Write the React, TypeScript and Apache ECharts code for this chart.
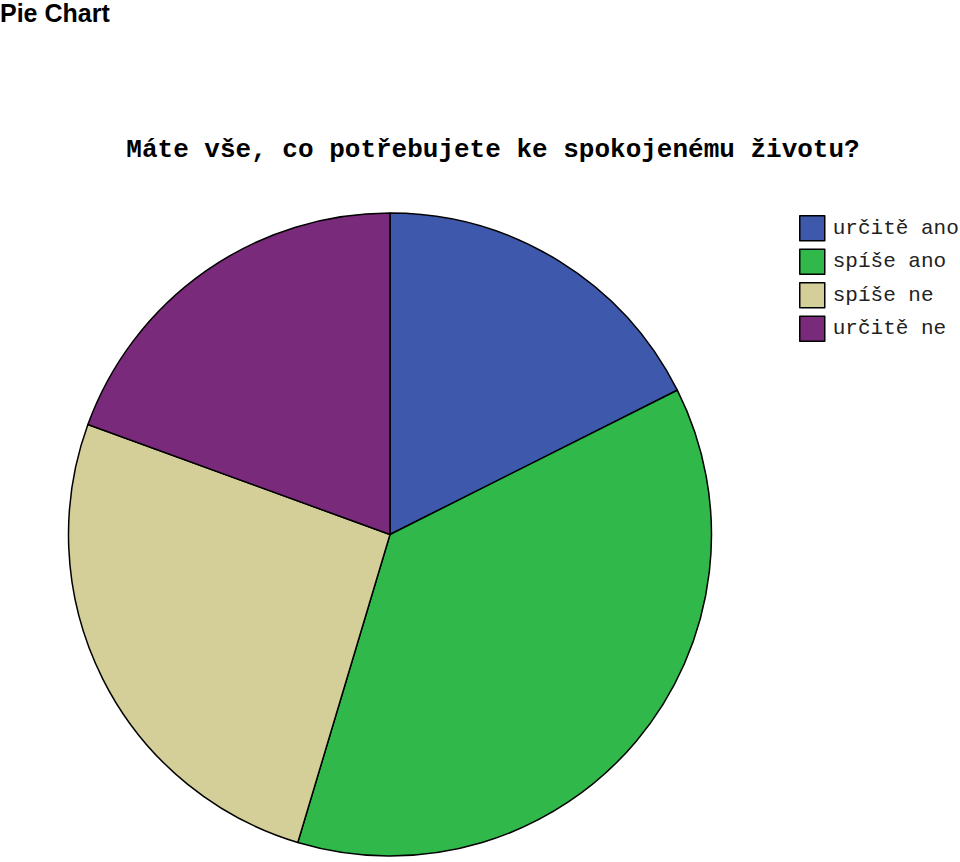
import React, { useEffect, useRef } from 'react';
import * as echarts from 'echarts';

// answer categories and counts (n = 108)
const categories = ['určitě ano', 'spíše ano', 'spíše ne', 'určitě ne'];
const counts = [19, 40, 28, 21];
const colors = ['#3e58ab', '#30b84a', '#d4ce98', '#7a2a7b'];

const pageTitle = 'Pie Chart';
const question = 'Máte vše, co potřebujete ke spokojenému životu?';

export default function App() {
  const chartRef = useRef<HTMLDivElement>(null);

  useEffect(() => {
    if (!chartRef.current) return;
    document.body.style.margin = '0';
    const chart = echarts.init(chartRef.current, undefined, { renderer: 'svg' });

    const option: echarts.EChartsOption = {
      animation: false,
      backgroundColor: '#fff',
      title: [
        {
          text: pageTitle,
          left: 0,
          top: 0,
          padding: 0,
          textStyle: {
            fontFamily: 'Liberation Sans',
            fontWeight: 'bold',
            fontSize: 25,
            color: '#000',
          },
        },
        {
          text: question,
          left: 493,
          top: 137,
          textAlign: 'center',
          padding: 0,
          textStyle: {
            fontFamily: 'Liberation Mono',
            fontWeight: 'bold',
            fontSize: 26,
            color: '#000',
          },
        },
      ],
      legend: {
        orient: 'vertical',
        left: 799,
        top: 215,
        padding: 0,
        icon: 'rect',
        itemWidth: 25,
        itemHeight: 25,
        itemGap: 7,
        selectedMode: false,
        data: categories,
        itemStyle: { borderColor: '#000', borderWidth: 1.5 },
        textStyle: {
          fontFamily: 'Liberation Mono',
          fontSize: 21,
          color: '#222',
          padding: [3, 0, 0, 3],
        },
      },
      series: [
        {
          type: 'pie',
          center: [390, 534.5],
          radius: 321.5,
          startAngle: 90,
          clockwise: true,
          label: { show: false },
          labelLine: { show: false },
          silent: true,
          itemStyle: { borderColor: '#000', borderWidth: 1.5 },
          data: categories.map((name, i) => ({
            name,
            value: counts[i],
            itemStyle: { color: colors[i] },
          })),
        },
      ],
    };

    chart.setOption(option);
    return () => {
      chart.dispose();
    };
  }, []);

  return <div ref={chartRef} style={{ width: 960, height: 862 }} />;
}
